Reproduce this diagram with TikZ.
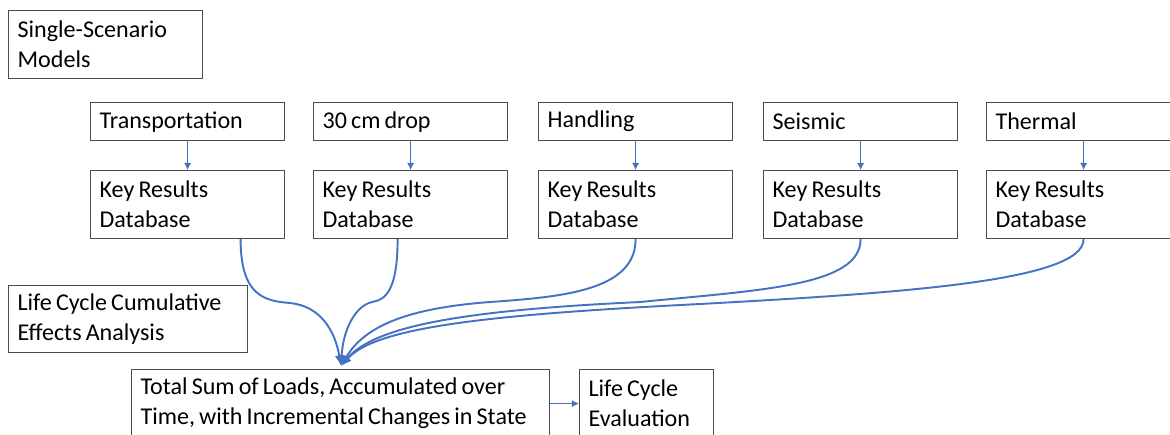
\documentclass[tikz,border=0pt]{standalone}
\usepackage{fontspec}
\setmainfont{Carlito}
\usetikzlibrary{calc,arrows.meta}
\definecolor{linkblue}{HTML}{4472C4}

\begin{document}
\begin{tikzpicture}[x=0.02cm, y=-0.02cm,
  box/.style={draw=black!70, line width=0.7pt, anchor=north west, align=left,
    inner xsep=0.18cm, inner ysep=0pt, font=\fontsize{13.7}{17}\selectfont,
    execute at begin node={\spaceskip=0.17em plus 0.05em\relax}},
  flatbox/.style={box, text width=3.52cm, minimum height=0.76cm},
  tallbox/.style={box, text width=3.52cm, minimum height=1.36cm},
  feed/.style={draw=linkblue, line width=0.5pt, -{Latex[length=4pt,width=4pt]}},
  merge/.style={draw=linkblue, line width=1.1pt, -{Latex[length=6pt,width=5pt]}}]

% Page frame
\useasboundingbox (0,0) rectangle (1170,434);
\clip (0,0) rectangle (1170,434);

% Title box
\node[tallbox] (single) at (8,10) {Single-Scenario\\Models};

% Scenario models
\node[flatbox] (trans) at (90,102) {Transportation};
\node[flatbox] (drop) at (313,102) {30 cm drop};
\node[flatbox] (handl) at (538,102) {Handling};
\node[flatbox] (seis) at (763,102) {Seismic};
\node[flatbox] (therm) at (986,102) {Thermal};

% Key results databases
\node[tallbox] (transkr) at (90,170) {Key Results\\Database};
\node[tallbox] (dropkr) at (313,170) {Key Results\\Database};
\node[tallbox] (handlkr) at (538,170) {Key Results\\Database};
\node[tallbox] (seiskr) at (763,170) {Key Results\\Database};
\node[tallbox] (thermkr) at (986,170) {Key Results\\Database};

% Scenario -> database
\draw[feed] (trans) -- (transkr);
\draw[feed] (drop) -- (dropkr);
\draw[feed] (handl) -- (handlkr);
\draw[feed] (seis) -- (seiskr);
\draw[feed] (therm) -- (thermkr);

% Cumulative analysis
\node[box, text width=4.42cm, minimum height=1.34cm] (lcca) at (8,285) {Life Cycle Cumulative\\Effects Analysis};
\node[box, text width=8.0cm, minimum height=1.36cm] (total) at (131,369) {Total Sum of Loads, Accumulated over\\Time, with Incremental Changes in State};
\node[box, text width=2.32cm, minimum height=1.36cm] (lce) at (579,369) {Life Cycle\\Evaluation};

% Merge point and bends
\coordinate (sum) at (341,366);
\coordinate (bendT) at (290,303);
\coordinate (bendD) at (372,302);
\coordinate (bendH) at (490,302);
\coordinate (bendS) at (640,302);
\coordinate (bendR) at (700,304);

% Databases -> total
\draw[merge] ($(transkr.south)+(53,0)$) .. controls +(0,57) and (265,301) .. (bendT)
  .. controls (320,306) and (335,330) .. (sum);
\draw[merge] ($(dropkr.south)+(-13,0)$) .. controls +(0,52) and (385,300) .. (bendD)
  .. controls (355,306) and (343,330) .. (sum);
\draw[merge] (handlkr.south) .. controls +(0,52) and (560,297) .. (bendH)
  .. controls (410,308) and (365,325) .. (sum);
\draw[merge] (seiskr.south) .. controls +(0,47) and (760,290) .. (bendS)
  .. controls (470,310) and (375,325) .. (sum);
\draw[merge] (thermkr.south) .. controls +(0,42) and (900,293) .. (bendR)
  .. controls (480,315) and (375,328) .. (sum);

% Total -> evaluation
\draw[feed] (total) -- (lce);

\end{tikzpicture}
\end{document}
